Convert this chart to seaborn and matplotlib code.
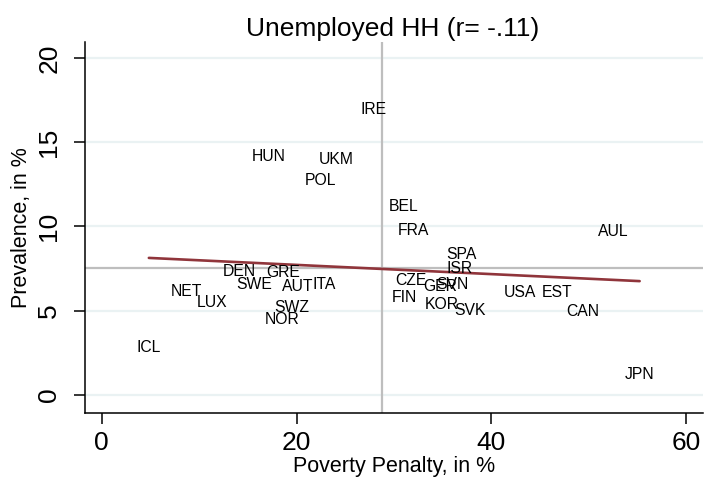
import seaborn as sns
import matplotlib.pyplot as plt
import pandas as pd

# country codes and values
countries = ['IRE', 'HUN', 'UKM', 'POL', 'BEL', 'FRA', 'AUL', 'SPA', 'ISR', 'CZE',
             'GER', 'SVN', 'FIN', 'KOR', 'SVK', 'USA', 'EST', 'CAN', 'JPN', 'DEN',
             'GRE', 'SWE', 'AUT', 'ITA', 'NET', 'LUX', 'SWZ', 'NOR', 'ICL']
poverty_penalty = [27.9, 17.1, 24.1, 22.5, 31.0, 32.0, 52.5, 36.95, 36.7, 31.7,
                   34.7, 36.0, 31.05, 34.9, 37.8, 42.9, 46.7, 49.4, 55.2, 14.1,
                   18.6, 15.7, 20.1, 22.8, 8.7, 11.3, 19.5, 18.5, 4.85]
prevalence = [16.97, 14.18, 14.0, 12.73, 11.19, 9.79, 9.73, 8.31, 7.51, 6.77,
              6.44, 6.53, 5.76, 5.37, 5.01, 6.11, 6.11, 4.96, 1.22, 7.30,
              7.24, 6.56, 6.44, 6.56, 6.17, 5.46, 5.22, 4.45, 2.82]

# reference lines (means)
mean_x = 28.8
mean_y = 7.55

x_ticks = [0, 20, 40, 60]
y_ticks = [0, 5, 10, 15, 20]

df = pd.DataFrame({'cc': countries, 'pp': poverty_penalty, 'prev': prevalence})

sns.set_style('ticks')
plt.rcParams['font.family'] = ['Liberation Sans', 'DejaVu Sans']
plt.rcParams['text.color'] = 'black'
plt.rcParams['axes.labelcolor'] = 'black'
plt.rcParams['xtick.color'] = 'black'
plt.rcParams['ytick.color'] = 'black'

fig = plt.figure(figsize=(7.08, 4.84), dpi=100)
ax = fig.add_axes([85 / 708, 1 - 413 / 484, (703 - 85) / 708, (413 - 42) / 484])

# grid
for yt in y_ticks:
    ax.axhline(yt, color='#EAF2F3', lw=1.6, zorder=0)

ax.axvline(mean_x, color='#BEBEBE', lw=1.6, zorder=1)
ax.axhline(mean_y, color='#BEBEBE', lw=1.6, zorder=1)

sns.regplot(data=df, x='pp', y='prev', scatter=False, ci=None, truncate=True,
            line_kws={'color': '#90353B', 'lw': 1.9, 'zorder': 2}, ax=ax)

for _, r in df.iterrows():
    ax.text(r['pp'], r['prev'], r['cc'], ha='center', va='center',
            fontsize=11.3, color='black', zorder=3)

ax.set_xlim(-1.7, 61.7)
ax.set_ylim(-1.07, 20.95)
ax.set_xticks(x_ticks)
ax.set_yticks(y_ticks)
ax.tick_params(axis='both', length=8, width=1.1, labelsize=19, color='black',
               labelcolor='black')
ax.tick_params(axis='x', pad=5)
ax.tick_params(axis='y', pad=9)
for lab in ax.get_yticklabels():
    lab.set_rotation(90)
    lab.set_va('center')

ax.set_xlabel('Poverty Penalty, in %', fontsize=15.5, labelpad=1, color='black')
ax.set_ylabel('Prevalence, in %', fontsize=15.5, labelpad=4, color='black')

sns.despine(ax=ax)
for s in ['left', 'bottom']:
    ax.spines[s].set_linewidth(1.1)
    ax.spines[s].set_color('black')

fig.text(393 / 708, 1 - 36 / 484, 'Unemployed HH (r= -.11)', ha='center',
         va='baseline', fontsize=19, color='black')

fig.savefig('out.png', dpi=100, facecolor='white')
